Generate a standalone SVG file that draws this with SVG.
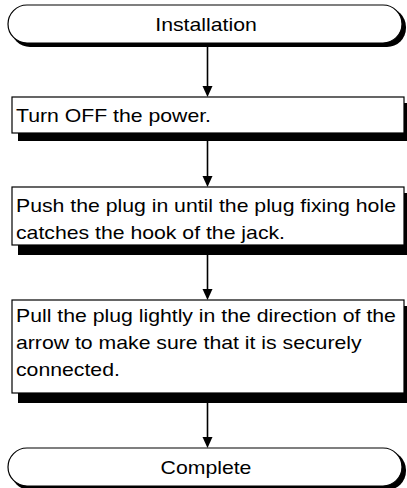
<svg xmlns="http://www.w3.org/2000/svg" width="407" height="488" viewBox="0 0 407 488">
<defs>
<style>
.t{font-family:"Liberation Sans",Arial,sans-serif;font-size:18px;fill:#000}
.c{text-anchor:middle}
.box{fill:#fff;stroke:#000;stroke-width:1.2}
.sh{fill:#000}
.ln{stroke:#000;stroke-width:1.6;fill:none}
</style>
</defs>
<g id="connectors">
<path d="M207.5,46 V87" class="ln"/><path d="M202.5,86 L212.5,86 L207.5,97 Z" fill="#000"/>
<path d="M207.5,141 V177" class="ln"/><path d="M202.5,176 L212.5,176 L207.5,187 Z" fill="#000"/>
<path d="M207.5,255 V290" class="ln"/><path d="M202.5,289 L212.5,289 L207.5,300 Z" fill="#000"/>
<path d="M207.5,403 V438" class="ln"/><path d="M202.5,437 L212.5,437 L207.5,448 Z" fill="#000"/>
</g>
<g id="start">
<rect x="11" y="8" width="395" height="39" rx="19" class="sh"/>
<rect x="8" y="5" width="394" height="38" rx="19" class="box"/>
<text x="0" y="31" class="t c" transform="translate(206,0) scale(1.18,1)">Installation</text>
</g>
<g id="step1">
<rect x="18" y="103" width="392" height="38" class="sh"/>
<rect x="12" y="97" width="392" height="36" class="box"/>
<text x="0" y="122" class="t" transform="translate(16,0) scale(1.18,1)">Turn OFF the power.</text>
</g>
<g id="step2">
<rect x="18" y="193" width="392" height="62" class="sh"/>
<rect x="12" y="187" width="392" height="58" class="box"/>
<g transform="translate(16,0) scale(1.18,1)">
<text x="0" y="212" class="t">Push the plug in until the plug fixing hole</text>
<text x="0" y="239" class="t">catches the hook of the jack.</text>
</g>
</g>
<g id="step3">
<rect x="18" y="306" width="392" height="97" class="sh"/>
<rect x="12" y="300" width="392" height="93" class="box"/>
<g transform="translate(16,0) scale(1.18,1)">
<text x="0" y="322" class="t">Pull the plug lightly in the direction of the</text>
<text x="0" y="349" class="t">arrow to make sure that it is securely</text>
<text x="0" y="376" class="t">connected.</text>
</g>
</g>
<g id="end">
<rect x="11" y="451" width="395" height="39" rx="19" class="sh"/>
<rect x="8" y="448" width="394" height="38" rx="19" class="box"/>
<text x="0" y="474" class="t c" transform="translate(206,0) scale(1.18,1)">Complete</text>
</g>
</svg>
